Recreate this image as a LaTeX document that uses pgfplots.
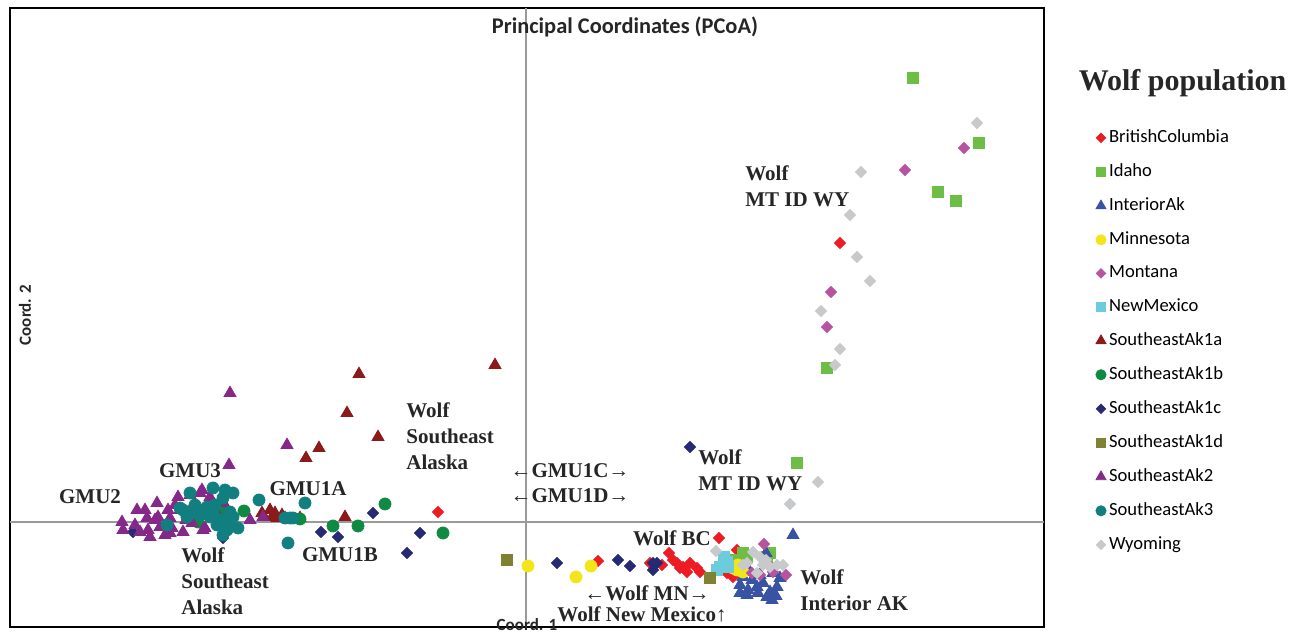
\documentclass[border=0pt]{standalone}
\usepackage{pgfplots}
\pgfplotsset{compat=1.18}
\usepackage{fontspec}
\setmainfont{Liberation Serif}
\newfontfamily\carl{Carlito}

\definecolor{cBC}{HTML}{ED1C24}
\definecolor{cID}{HTML}{6DBE45}
\definecolor{cIA}{HTML}{3953A4}
\definecolor{cMN}{HTML}{F2E51A}
\definecolor{cMT}{HTML}{B853A0}
\definecolor{cNM}{HTML}{6CCCDB}
\definecolor{cSa}{HTML}{8B1A1A}
\definecolor{cSb}{HTML}{0E8A43}
\definecolor{cSc}{HTML}{262A75}
\definecolor{cSd}{HTML}{7F8233}
\definecolor{cS2}{HTML}{84288A}
\definecolor{cS3}{HTML}{117F80}
\definecolor{cWY}{HTML}{C8C9CB}
\definecolor{midline}{HTML}{9A9A9A}

\pgfplotsset{
  dia/.style={only marks, color=#1, mark=square*, mark size=1.95pt, mark options={rotate=45}},
  sq/.style={only marks, color=#1, mark=square*, mark size=2.75pt},
  tri/.style={only marks, color=#1, mark=triangle*, mark size=3.4pt},
  cir/.style={only marks, color=#1, mark=*, mark size=3pt},
}
\tikzset{lab/.style={font=\bfseries\fontsize{10.5}{13}\selectfont, inner sep=0pt, text=black!85}}

\begin{document}
\begin{tikzpicture}
\useasboundingbox (0,0) rectangle (649pt,318.5pt);
\begin{axis}[
  at={(5pt,5pt)}, anchor=south west,
  width=517pt, height=309.5pt, scale only axis,
  xmin=-516, xmax=518, ymin=-105, ymax=514,
  xtick=\empty, ytick=\empty,
  axis line style={line width=0.8pt},
  clip=false,
  legend style={at={(axis description cs:1.044,0.815)}, anchor=north west,
    draw=none, fill=none, font=\carl\fontsize{9.3}{11}\selectfont,
    row sep=6.05pt, nodes={inner sep=1.5pt}},
  legend cell align=left,
  legend image code/.code={\draw[#1, every mark/.append style={scale=0.85}] plot coordinates {(0pt,0pt)};},
]
\draw[midline, line width=1pt] (axis cs:-516,0) -- (axis cs:518,0);
\draw[midline, line width=1pt] (axis cs:0,-105) -- (axis cs:0,514);

% BritishColumbia
\addplot[dia=cBC] coordinates {(-88,10)(314,279)(193,-16)(143,-31)(72,-39)(124,-41)
  (136,-43)(147,-38)(151,-41)(154,-46)(157,-45)(161,-50)(164,-41)(171,-46)(174,-50)
  (201,-51)(207,-55)(211,-28)(212,-35)(219,-50)};
% Idaho
\addplot[sq=cID] coordinates {(387,444)(453,379)(412,330)(430,321)(301,154)(271,59)
  (217,-31)(221,-35)(244,-31)(207,-38)(241,-35)};
% InteriorAk
\addplot[tri=cIA] coordinates {(267,-13)(240,-31)(214,-63)(217,-55)(221,-73)(222,-68)
  (226,-58)(231,-65)(232,-71)(237,-61)(241,-75)(244,-70)(247,-51)(251,-65)(254,-56)
  (246,-78)(214,-71)(234,-53)(224,-50)(250,-74)};
% Minnesota
\addplot[cir=cMN] coordinates {(2,-44)(50,-55)(65,-44)(207,-46)(211,-48)(214,-48)
  (217,-50)(212,-43)};
% Montana
\addplot[dia=cMT] coordinates {(438,374)(379,352)(305,230)(301,195)(238,-22)(226,-51)
  (234,-53)(247,-50)(260,-53)(244,-44)};
% NewMexico
\addplot[sq=cNM] coordinates {(194,-45)(201,-40)(191,-48)(202,-45)(198,-35)};
% SoutheastAk1a
\addplot[tri=cSa] coordinates {(-31,157)(-167,148)(-179,109)(-148,85)(-207,74)(-220,64)
  (-181,5)(-264,9)(-256,12)(-251,9)(-244,7)(-249,4)(-226,4)(-254,5)(-241,4)(-303,20)};
% SoutheastAk1b
\addplot[cir=cSb] coordinates {(-282,11)(-193,-4)(-168,-4)(-141,18)(-83,-11)(-226,3)
  (-328,0)(-301,10)};
% SoutheastAk1c
\addplot[dia=cSc] coordinates {(-393,-10)(-303,-16)(-205,-10)(-188,-15)(-153,9)(-119,-31)
  (-106,-11)(164,75)(31,-41)(92,-38)(104,-44)(127,-41)(127,-48)(131,-41)};
% SoutheastAk1d
\addplot[sq=cSd] coordinates {(-19,-38)(184,-56)};
% SoutheastAk2
\addplot[tri=cS2] coordinates {(-296,129)(-239,77)(-297,57)(-276,2)(-263,5)
  (-404,0)(-403,-8)(-389,12)(-381,12)(-379,4)(-378,-8)(-376,-15)(-369,19)(-368,5)
  (-366,-5)(-358,12)(-356,4)(-354,-6)(-348,25)(-346,12)(-343,-10)(-336,27)(-334,15)
  (-326,29)(-321,-6)(-316,25)(-303,19)(-356,-11)(-334,-1)(-323,-8)(-324,32)(-371,2)
  (-361,-13)(-340,2)(-391,-3)(-386,-10)(-351,17)(-311,12)};
% SoutheastAk3
\addplot[cir=cS3] coordinates {(-336,29)(-313,34)(-301,32)(-293,29)(-303,24)(-267,22)
  (-221,19)(-359,-3)(-238,-21)(-236,4)(-241,4)(-343,12)(-333,10)(-323,12)(-313,9)
  (-306,2)(-296,-1)(-299,-8)(-303,-13)(-288,-6)(-293,5)(-339,5)(-326,7)(-316,5)
  (-346,14)(-319,15)(-296,10)(-309,-3)(-331,17)(-311,17)(-233,4)};
% Wyoming
\addplot[dia=cWY] coordinates {(451,399)(335,350)(324,307)(331,265)(344,241)(295,211)
  (314,173)(309,157)(292,40)(264,18)(190,-29)(221,-41)(234,-35)(237,-43)(251,-43)
  (257,-43)(231,-51)(244,-45)(227,-30)(217,-43)(240,-38)};

\legend{BritishColumbia, Idaho, InteriorAk, Minnesota, Montana, NewMexico,
  SoutheastAk1a, SoutheastAk1b, SoutheastAk1c, SoutheastAk1d, SoutheastAk2,
  SoutheastAk3, Wyoming}

% titles
\node[font=\carl\bfseries\fontsize{11.2}{13}\selectfont, inner sep=0pt, text=black!85]
  at (axis cs:99,495) {Principal Coordinates (PCoA)};
\node[font=\carl\bfseries\fontsize{8.5}{10}\selectfont, inner sep=0pt, rotate=90, text=black!85]
  at (axis cs:-501,207) {Coord. 2};
\node[font=\carl\bfseries\fontsize{8.5}{10}\selectfont, inner sep=0pt, text=black!85]
  at (axis cs:1,-103) {Coord. 1};
\node[font=\bfseries\fontsize{15}{18}\selectfont, inner sep=0pt, text=black!85]
  at (axis description cs:1.134,0.879) {Wolf population};

% group labels
\node[lab] at (axis cs:-436,25) {GMU2};
\node[lab] at (axis cs:-336,51) {GMU3};
\node[lab] at (axis cs:-218,33) {GMU1A};
\node[lab] at (axis cs:-186,-33) {GMU1B};
\node[lab, anchor=north west, align=left] at (axis cs:-345,-25) {Wolf\\Southeast\\Alaska};
\node[lab, anchor=north west, align=left] at (axis cs:-120,120) {Wolf\\Southeast\\Alaska};
\node[lab] at (axis cs:44,51) {\textmd{←}GMU1C\textmd{→}};
\node[lab] at (axis cs:44,26) {\textmd{←}GMU1D\textmd{→}};
\node[lab, anchor=north west, align=left] at (axis cs:172,73) {Wolf\\MT ID WY};
\node[lab, anchor=north west, align=left] at (axis cs:219,357) {Wolf\\MT ID WY};
\node[lab] at (axis cs:146,-16) {Wolf BC};
\node[lab] at (axis cs:121,-71) {\textmd{←}Wolf MN\textmd{→}};
\node[lab] at (axis cs:116,-92) {Wolf New Mexico\textmd{↑}};
\node[lab, anchor=north west, align=left] at (axis cs:274,-47) {Wolf\\Interior AK};
\end{axis}
\end{tikzpicture}
\end{document}
